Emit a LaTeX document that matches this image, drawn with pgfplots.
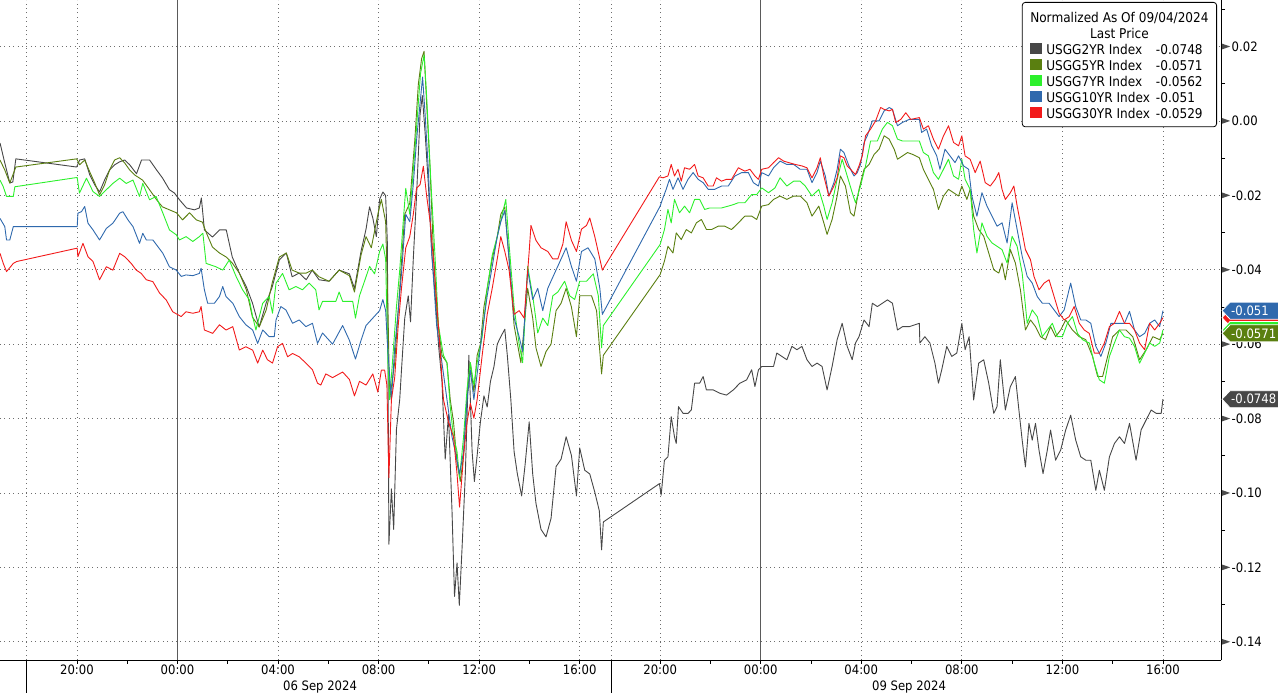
\documentclass[border=0pt]{standalone}
\usepackage{fontspec}
\setmainfont{DejaVu Sans}[FakeStretch=0.9]
\usepackage{pgfplots}
\pgfplotsset{compat=1.18}

\definecolor{c2}{HTML}{474747}
\definecolor{c5}{HTML}{5A7F10}
\definecolor{c7}{HTML}{2CF02C}
\definecolor{c10}{HTML}{2F69AD}
\definecolor{c30}{HTML}{F21A1A}
\definecolor{gridgray}{HTML}{6E6E6E}
\definecolor{midgray}{HTML}{5A5A5A}
\definecolor{tickgray}{HTML}{4D4D4D}

\newcommand\lf{\fontsize{13}{16}\selectfont}
\newcommand\tri{\tikz[baseline=-4.7bp]\fill[tickgray] (0bp,-2.8bp) -- (8bp,0bp) -- (0bp,2.8bp) -- cycle;\hspace{1.5bp}}
\newcommand\sq[1]{\textcolor{#1}{\rule{12bp}{11bp}}}
% last-value tag on the right axis (shape only, then with its text)
\newcommand\ytagbox[2]{%
  \filldraw[fill=#1, draw=white, line width=0.8bp] ([xshift=1bp]axis cs:41.51,#2) -- ++(8bp,8.5bp) -- ++(52bp,0bp) -- ++(0bp,-17bp) -- ++(-52bp,0bp) -- cycle;}
\newcommand\ytag[3]{%
  \ytagbox{#1}{#2}
  \node[anchor=west, text=white, font=\lf, inner sep=0pt] at ([xshift=10bp]axis cs:41.51,#2) {#3};}

\begin{document}
\begin{tikzpicture}
\path[use as bounding box] (0,0) rectangle (1278bp,693bp);
\begin{axis}[
  at={(0,33bp)}, anchor=south west,
  scale only axis, width=1221bp, height=660bp,
  xmin=-7.06, xmax=41.51, ymin=-0.1449, ymax=0.0325,
  axis x line=bottom, axis y line=right,
  axis line style={-, black, line width=0.8bp},
  clip=false,
  xtick={-4,4,8,12,16,19.2,27.2,31.2,35.2,39.2},
  xticklabels={20:00,04:00,08:00,12:00,16:00,20:00,04:00,08:00,12:00,16:00},
  extra x ticks={0,23.2},
  extra x tick labels={00:00,00:00},
  extra x tick style={grid=major, major grid style={solid, draw=midgray, line width=0.8bp}},
  minor xtick={-4,-2,0,2,4,6,8,10,12,14,16,19.2,21.2,23.2,25.2,27.2,29.2,31.2,33.2,35.2,37.2,39.2},
  ytick={-0.14,-0.12,-0.10,-0.08,-0.06,-0.04,-0.02,0,0.02},
  yticklabels={\tri-0.14,\tri-0.12,\tri-0.10,\tri-0.08,\tri-0.06,\tri-0.04,\tri-0.02,\tri0.00,\tri0.02},
  minor ytick={-0.13,-0.11,-0.09,-0.07,-0.05,-0.03,-0.01,0.01,0.03},
  tick align=outside, major tick length=0pt, minor tick length=4bp,
  tick style={black, line width=0.8bp},
  grid=major,
  major grid style={draw=gridgray, line width=0.8bp, dash pattern=on 0.8bp off 3.6bp},
  xticklabel style={font=\lf, anchor=north, inner sep=0pt, yshift=-5bp},
  yticklabel style={font=\lf, anchor=west, inner sep=0pt, xshift=1bp},
  every axis plot/.append style={line width=0.9bp, line join=round, no markers},
]

% session separators
\draw[gridgray, line width=0.8bp, dash pattern=on 0.8bp off 3.6bp] (axis cs:-6,-0.1449) -- (axis cs:-6,0.0325);
\draw[gridgray, line width=0.8bp, dash pattern=on 0.8bp off 3.6bp] (axis cs:17.28,-0.1449) -- (axis cs:17.28,0.0325);
\draw[black, line width=0.8bp] (axis cs:-6,-0.1449) -- ([yshift=-33bp]axis cs:-6,-0.1449);
\draw[black, line width=0.8bp] (axis cs:17.28,-0.1449) -- ([yshift=-33bp]axis cs:17.28,-0.1449);

% USGG2YR
\addplot[c2] coordinates {
(-7.06,-0.0059) (-6.87,-0.0113) (-6.67,-0.0167) (-6.55,-0.0164) (-6.43,-0.0102) (-4.01,-0.0124) (-3.89,-0.0105) (-3.69,-0.0102) (-3.49,-0.0145) (-3.29,-0.0172) (-3.10,-0.0191) (-2.90,-0.0159) (-2.70,-0.0132) (-2.50,-0.0118) (-2.30,-0.0110) (-2.10,-0.0105) (-1.90,-0.0118) (-1.63,-0.0142) (-1.43,-0.0105) (-1.11,-0.0105) (-0.83,-0.0132) (-0.60,-0.0153) (-0.32,-0.0185) (-0.12,-0.0194) (0.08,-0.0212) (0.36,-0.0234) (0.67,-0.0239) (0.87,-0.0234) (0.95,-0.0207) (1.07,-0.0293) (1.39,-0.0312) (1.67,-0.0293) (1.94,-0.0293) (2.18,-0.0366) (2.46,-0.0409) (2.74,-0.0446) (2.98,-0.0489) (3.25,-0.0554) (3.53,-0.0489) (3.77,-0.0446) (4.05,-0.0374) (4.33,-0.0355) (4.56,-0.0419) (4.84,-0.0409) (5.12,-0.0427) (5.36,-0.0401) (5.63,-0.0427)
(6.03,-0.0431) (6.43,-0.0401) (6.84,-0.0411) (7.04,-0.0450) (7.30,-0.0351) (7.50,-0.0291) (7.64,-0.0231) (7.77,-0.0261) (7.91,-0.0311) (8.04,-0.0211) (8.17,-0.0191) (8.28,-0.0201) (8.35,-0.0331) (8.41,-0.1138) (8.51,-0.0989) (8.60,-0.1098) (8.71,-0.0829) (8.84,-0.0749) (8.91,-0.0670) (9.04,-0.0530) (9.18,-0.0470) (9.27,-0.0540) (9.38,-0.0371) (9.51,-0.0201) (9.65,0.0018) (9.74,0.0068) (9.85,-0.0032) (9.98,-0.0171) (10.11,-0.0351) (10.25,-0.0470) (10.38,-0.0600) (10.52,-0.0700) (10.65,-0.0909) (10.78,-0.0789) (10.92,-0.1048) (11.02,-0.1278) (11.12,-0.1188) (11.21,-0.1302) (11.32,-0.1148) (11.45,-0.0949) (11.59,-0.0630) (11.72,-0.0889) (11.81,-0.0969) (11.92,-0.0899) (12.05,-0.0809) (12.19,-0.0739) (12.32,-0.0769) (12.45,-0.0700) (12.59,-0.0660) (12.72,-0.0600) (12.86,-0.0580) (13.02,-0.0560) (13.12,-0.0630) (13.26,-0.0749) (13.39,-0.0889) (13.52,-0.0949) (13.69,-0.1008) (13.82,-0.0929) (13.99,-0.0809) (14.13,-0.0949) (14.26,-0.1028) (14.46,-0.1098) (14.66,-0.1118) (14.86,-0.1068) (15.06,-0.0929) (15.26,-0.0909) (15.46,-0.0849) (15.67,-0.0899) (15.87,-0.1008) (16.00,-0.0879) (16.20,-0.0939) (16.40,-0.0949) (16.60,-0.0998) (16.78,-0.1048) (16.87,-0.1153) (16.94,-0.1078)
(19.17,-0.0975) (19.24,-0.1006) (19.37,-0.0912) (19.51,-0.0903) (19.64,-0.0795) (19.77,-0.0849) (19.84,-0.0867) (19.93,-0.0768) (20.11,-0.0786) (20.31,-0.0786) (20.44,-0.0777) (20.57,-0.0705) (20.77,-0.0705) (20.91,-0.0687) (21.04,-0.0723) (21.31,-0.0723) (21.57,-0.0732) (21.84,-0.0737) (22.11,-0.0723) (22.37,-0.0705) (22.64,-0.0696) (22.84,-0.0669) (22.97,-0.0714) (23.11,-0.0669) (23.24,-0.0660) (23.51,-0.0660) (23.71,-0.0660) (23.84,-0.0624) (24.04,-0.0633) (24.24,-0.0642) (24.44,-0.0606) (24.64,-0.0615) (24.84,-0.0606) (25.04,-0.0642) (25.24,-0.0660) (25.44,-0.0651) (25.64,-0.0660) (25.84,-0.0723) (26.04,-0.0660) (26.24,-0.0588) (26.44,-0.0544) (26.64,-0.0606) (26.84,-0.0642) (26.97,-0.0597) (27.11,-0.0580) (27.31,-0.0535) (27.51,-0.0553) (27.64,-0.0490) (27.84,-0.0499) (28.04,-0.0490) (28.24,-0.0481) (28.44,-0.0490) (28.64,-0.0562) (28.84,-0.0553) (29.11,-0.0553) (29.51,-0.0544)
(29.53,-0.0597) (29.73,-0.0580) (29.93,-0.0597) (30.13,-0.0651) (30.27,-0.0705) (30.40,-0.0669) (30.60,-0.0606) (30.80,-0.0633) (31.00,-0.0624) (31.20,-0.0544) (31.33,-0.0615) (31.49,-0.0580) (31.67,-0.0750) (31.87,-0.0651) (32.07,-0.0642) (32.27,-0.0705) (32.47,-0.0786) (32.60,-0.0768) (32.73,-0.0642) (32.93,-0.0777) (33.13,-0.0714) (33.33,-0.0687) (33.47,-0.0777) (33.60,-0.0858) (33.73,-0.0930) (33.87,-0.0813) (34.00,-0.0858) (34.13,-0.0813) (34.27,-0.0885) (34.43,-0.0948) (34.60,-0.0885) (34.73,-0.0831) (34.93,-0.0912) (35.13,-0.0885) (35.33,-0.0831) (35.53,-0.0791) (35.73,-0.0858) (35.93,-0.0903) (36.13,-0.0912) (36.33,-0.0912) (36.53,-0.0993) (36.67,-0.0939) (36.87,-0.0993) (37.07,-0.0903) (37.27,-0.0867) (37.47,-0.0849) (37.67,-0.0867) (37.87,-0.0813) (38.13,-0.0912) (38.33,-0.0831) (38.53,-0.0804) (38.73,-0.0777) (38.93,-0.0786) (39.13,-0.0786) (39.20,-0.0748)
};

% USGG5YR
\addplot[c5] coordinates {
(-7.06,-0.0105) (-6.87,-0.0132) (-6.67,-0.0167) (-6.43,-0.0124) (-4.01,-0.0102) (-3.89,-0.0118) (-3.69,-0.0105) (-3.49,-0.0137) (-3.29,-0.0167) (-3.10,-0.0199) (-2.90,-0.0172) (-2.70,-0.0132) (-2.50,-0.0105) (-2.30,-0.0099) (-2.10,-0.0113) (-1.90,-0.0132) (-1.71,-0.0145) (-1.39,-0.0159) (-1.11,-0.0185) (-0.83,-0.0212) (-0.60,-0.0231) (-0.32,-0.0239) (-0.04,-0.0247) (0.20,-0.0266) (0.48,-0.0247) (0.75,-0.0266) (0.99,-0.0272) (1.15,-0.0301) (1.39,-0.0339) (1.67,-0.0355) (1.94,-0.0366) (2.18,-0.0382) (2.46,-0.0409) (2.74,-0.0454) (2.98,-0.0527) (3.25,-0.0554) (3.53,-0.0508) (3.77,-0.0435) (4.05,-0.0366) (4.33,-0.0355) (4.56,-0.0401) (4.84,-0.0409) (5.12,-0.0409) (5.36,-0.0401) (5.63,-0.0419)
(6.03,-0.0431) (6.43,-0.0401) (6.84,-0.0416) (7.04,-0.0460) (7.30,-0.0361) (7.50,-0.0311) (7.71,-0.0341) (7.97,-0.0251) (8.11,-0.0211) (8.28,-0.0271) (8.37,-0.0500) (8.44,-0.0749) (8.64,-0.0650) (8.84,-0.0450) (9.04,-0.0251) (9.24,-0.0221) (9.44,-0.0052) (9.58,0.0098) (9.71,0.0167) (9.81,0.0187) (9.91,0.0048) (10.05,-0.0132) (10.18,-0.0351) (10.34,-0.0530) (10.52,-0.0630) (10.72,-0.0650) (10.85,-0.0749) (10.98,-0.0809) (11.12,-0.0919) (11.25,-0.0969) (11.38,-0.0899) (11.52,-0.0739) (11.65,-0.0650) (11.79,-0.0729) (11.92,-0.0630) (12.05,-0.0600) (12.19,-0.0500) (12.32,-0.0450) (12.52,-0.0371) (12.72,-0.0311) (12.86,-0.0251) (13.02,-0.0231) (13.19,-0.0371) (13.39,-0.0550) (13.66,-0.0650) (13.93,-0.0450) (14.13,-0.0530) (14.26,-0.0610) (14.46,-0.0660) (14.66,-0.0620) (14.86,-0.0600) (15.06,-0.0510) (15.26,-0.0490) (15.46,-0.0450) (15.67,-0.0500) (15.87,-0.0580) (16.00,-0.0470) (16.20,-0.0470) (16.47,-0.0470) (16.67,-0.0510) (16.87,-0.0680) (16.94,-0.0630)
(19.20,-0.0413) (19.37,-0.0377) (19.51,-0.0337) (19.71,-0.0355) (19.84,-0.0301) (20.04,-0.0319) (20.24,-0.0292) (20.44,-0.0301) (20.64,-0.0274) (20.84,-0.0265) (21.04,-0.0292) (21.24,-0.0292) (21.51,-0.0283) (21.77,-0.0283) (22.04,-0.0292) (22.31,-0.0274) (22.57,-0.0256) (22.84,-0.0256) (23.04,-0.0265) (23.24,-0.0229) (23.51,-0.0225) (23.71,-0.0211) (23.97,-0.0202) (24.24,-0.0211) (24.51,-0.0202) (24.77,-0.0202) (25.04,-0.0220) (25.24,-0.0256) (25.51,-0.0229) (25.71,-0.0274) (25.84,-0.0305) (26.04,-0.0265) (26.24,-0.0202) (26.37,-0.0148) (26.57,-0.0175) (26.77,-0.0247) (26.91,-0.0256) (27.11,-0.0184) (27.31,-0.0130) (27.51,-0.0117) (27.71,-0.0090) (27.91,-0.0076) (28.11,-0.0040) (28.31,-0.0049) (28.51,-0.0076) (28.64,-0.0103) (28.84,-0.0094) (29.04,-0.0085) (29.24,-0.0090) (29.51,-0.0099)
(29.67,-0.0130) (29.87,-0.0157) (30.07,-0.0184) (30.27,-0.0238) (30.47,-0.0202) (30.67,-0.0184) (30.87,-0.0193) (31.07,-0.0202) (31.20,-0.0175) (31.40,-0.0211) (31.53,-0.0184) (31.67,-0.0256) (31.87,-0.0292) (32.07,-0.0310) (32.27,-0.0355) (32.47,-0.0400) (32.67,-0.0409) (32.80,-0.0382) (32.93,-0.0427) (33.13,-0.0346) (33.33,-0.0382) (33.53,-0.0454) (33.73,-0.0562) (33.93,-0.0535) (34.13,-0.0553) (34.33,-0.0580) (34.53,-0.0588) (34.73,-0.0553) (34.93,-0.0580) (35.13,-0.0562) (35.33,-0.0535) (35.60,-0.0562) (35.87,-0.0580) (36.13,-0.0588) (36.40,-0.0633) (36.60,-0.0687) (36.80,-0.0687) (37.00,-0.0633) (37.20,-0.0580) (37.47,-0.0562) (37.73,-0.0562) (38.00,-0.0580) (38.27,-0.0642) (38.53,-0.0615) (38.80,-0.0580) (39.07,-0.0588) (39.20,-0.0571)
};

% USGG7YR
\addplot[c7] coordinates {
(-7.06,-0.0159) (-6.93,-0.0177) (-6.80,-0.0203) (-6.53,-0.0203) (-6.47,-0.0177) (-3.99,-0.0152) (-3.90,-0.0194) (-3.62,-0.0154) (-3.36,-0.0190) (-3.10,-0.0203) (-2.83,-0.0185) (-2.57,-0.0168) (-2.30,-0.0154) (-2.04,-0.0168) (-1.77,-0.0159) (-1.51,-0.0203) (-1.38,-0.0168) (-1.11,-0.0212) (-0.85,-0.0203) (-0.58,-0.0248) (-0.32,-0.0293) (-0.05,-0.0306) (0.08,-0.0320) (0.34,-0.0311) (0.61,-0.0324) (0.87,-0.0311) (1.01,-0.0302) (1.14,-0.0383) (1.53,-0.0392) (1.80,-0.0401) (2.06,-0.0374) (2.33,-0.0418) (2.59,-0.0454) (2.86,-0.0481) (2.99,-0.0526) (3.12,-0.0562) (3.39,-0.0490) (3.65,-0.0472) (3.78,-0.0517) (3.92,-0.0436) (4.18,-0.0410) (4.44,-0.0454) (4.71,-0.0445) (4.97,-0.0454) (5.24,-0.0436) (5.50,-0.0454) (5.63,-0.0508)
(5.77,-0.0485) (6.30,-0.0485) (6.43,-0.0460) (6.57,-0.0485) (6.97,-0.0485) (7.08,-0.0530) (7.24,-0.0470) (7.44,-0.0431) (7.64,-0.0391) (7.84,-0.0411) (8.04,-0.0351) (8.17,-0.0331) (8.28,-0.0371) (8.37,-0.0650) (8.44,-0.0749) (8.55,-0.0650) (8.71,-0.0500) (8.84,-0.0401) (8.98,-0.0271) (9.08,-0.0181) (9.24,-0.0251) (9.44,-0.0082) (9.58,0.0048) (9.67,0.0128) (9.81,0.0177) (9.91,0.0068) (10.07,-0.0151) (10.25,-0.0371) (10.38,-0.0550) (10.58,-0.0630) (10.72,-0.0650) (10.85,-0.0769) (10.98,-0.0849) (11.12,-0.0889) (11.22,-0.0959) (11.38,-0.0849) (11.52,-0.0719) (11.65,-0.0650) (11.79,-0.0710) (11.92,-0.0650) (12.12,-0.0580) (12.32,-0.0450) (12.52,-0.0361) (12.72,-0.0311) (12.92,-0.0251) (13.06,-0.0211) (13.19,-0.0331) (13.39,-0.0500) (13.59,-0.0600) (13.73,-0.0650) (13.93,-0.0391) (14.13,-0.0470) (14.33,-0.0570) (14.53,-0.0530) (14.73,-0.0550) (14.93,-0.0470) (15.13,-0.0460) (15.40,-0.0431) (15.60,-0.0470) (15.80,-0.0480) (16.00,-0.0431) (16.27,-0.0431) (16.54,-0.0411) (16.74,-0.0470) (16.87,-0.0610) (16.94,-0.0550)
(19.20,-0.0332) (19.37,-0.0292) (19.51,-0.0238) (19.64,-0.0274) (19.77,-0.0211) (19.97,-0.0247) (20.17,-0.0229) (20.37,-0.0247) (20.57,-0.0211) (20.77,-0.0211) (20.97,-0.0238) (21.17,-0.0234) (21.37,-0.0234) (21.64,-0.0234) (21.91,-0.0229) (22.11,-0.0225) (22.31,-0.0220) (22.57,-0.0220) (22.84,-0.0198) (23.04,-0.0198) (23.24,-0.0180) (23.51,-0.0193) (23.77,-0.0180) (23.97,-0.0153) (24.24,-0.0175) (24.51,-0.0162) (24.77,-0.0162) (24.97,-0.0175) (25.24,-0.0202) (25.51,-0.0184) (25.71,-0.0229) (25.84,-0.0265) (26.04,-0.0220) (26.24,-0.0157) (26.44,-0.0103) (26.64,-0.0148) (26.84,-0.0193) (26.97,-0.0220) (27.17,-0.0175) (27.37,-0.0121) (27.57,-0.0054) (27.84,-0.0054) (28.04,-0.0022) (28.24,-0.0004) (28.44,-0.0013) (28.64,-0.0049) (28.84,-0.0054) (29.11,-0.0054) (29.51,-0.0054)
(29.67,-0.0085) (29.87,-0.0094) (30.07,-0.0139) (30.27,-0.0157) (30.47,-0.0130) (30.67,-0.0103) (30.87,-0.0148) (31.07,-0.0157) (31.20,-0.0103) (31.33,-0.0157) (31.53,-0.0184) (31.67,-0.0292) (31.80,-0.0355) (32.00,-0.0274) (32.20,-0.0310) (32.40,-0.0328) (32.60,-0.0337) (32.80,-0.0346) (33.00,-0.0382) (33.20,-0.0310) (33.40,-0.0337) (33.60,-0.0409) (33.80,-0.0544) (34.00,-0.0508) (34.20,-0.0526) (34.40,-0.0580) (34.60,-0.0562) (34.80,-0.0544) (35.00,-0.0580) (35.20,-0.0580) (35.40,-0.0544) (35.60,-0.0526) (35.80,-0.0571) (36.00,-0.0588) (36.27,-0.0597) (36.47,-0.0651) (36.67,-0.0696) (36.87,-0.0705) (37.07,-0.0633) (37.27,-0.0597) (37.47,-0.0562) (37.67,-0.0580) (37.87,-0.0584) (38.07,-0.0606) (38.27,-0.0651) (38.47,-0.0624) (38.67,-0.0597) (38.87,-0.0606) (39.07,-0.0597) (39.20,-0.0562)
};

% USGG10YR
\addplot[c10] coordinates {
(-7.06,-0.0262) (-6.87,-0.0284) (-6.80,-0.0320) (-6.67,-0.0320) (-6.53,-0.0284) (-3.99,-0.0284) (-3.96,-0.0248) (-3.82,-0.0244) (-3.69,-0.0230) (-3.56,-0.0275) (-3.36,-0.0293) (-3.10,-0.0320) (-2.83,-0.0289) (-2.57,-0.0275) (-2.30,-0.0248) (-2.17,-0.0244) (-1.97,-0.0266) (-1.77,-0.0284) (-1.51,-0.0329) (-1.38,-0.0302) (-1.24,-0.0320) (-0.98,-0.0320) (-0.78,-0.0338) (-0.58,-0.0356) (-0.32,-0.0392) (-0.05,-0.0401) (0.15,-0.0418) (0.34,-0.0414) (0.61,-0.0416) (0.87,-0.0410) (0.94,-0.0396) (1.07,-0.0454) (1.20,-0.0490) (1.47,-0.0490) (1.67,-0.0472) (1.80,-0.0445) (1.93,-0.0472) (2.20,-0.0490) (2.46,-0.0526) (2.72,-0.0548) (2.99,-0.0562) (3.19,-0.0598) (3.39,-0.0562) (3.65,-0.0580) (3.85,-0.0580) (3.92,-0.0535) (4.11,-0.0499) (4.31,-0.0508) (4.58,-0.0544) (4.84,-0.0535) (5.11,-0.0553) (5.37,-0.0544) (5.57,-0.0598)
(5.77,-0.0570) (6.17,-0.0600) (6.57,-0.0550) (6.84,-0.0590) (7.08,-0.0640) (7.30,-0.0590) (7.50,-0.0550) (7.77,-0.0530) (8.04,-0.0510) (8.17,-0.0480) (8.28,-0.0510) (8.37,-0.0620) (8.51,-0.0749) (8.64,-0.0610) (8.78,-0.0510) (8.91,-0.0411) (9.08,-0.0251) (9.24,-0.0271) (9.38,-0.0171) (9.51,-0.0052) (9.65,0.0048) (9.75,0.0118) (9.85,0.0018) (9.98,-0.0132) (10.11,-0.0351) (10.31,-0.0550) (10.52,-0.0650) (10.72,-0.0749) (10.92,-0.0849) (11.05,-0.0889) (11.22,-0.0949) (11.38,-0.0889) (11.52,-0.0749) (11.65,-0.0670) (11.79,-0.0749) (11.92,-0.0680) (12.12,-0.0570) (12.32,-0.0470) (12.52,-0.0391) (12.72,-0.0311) (12.86,-0.0271) (13.02,-0.0241) (13.19,-0.0371) (13.39,-0.0530) (13.59,-0.0580) (13.73,-0.0620) (13.93,-0.0401) (14.13,-0.0480) (14.33,-0.0450) (14.53,-0.0510) (14.73,-0.0450) (14.99,-0.0411) (15.26,-0.0371) (15.46,-0.0341) (15.67,-0.0391) (15.87,-0.0431) (16.07,-0.0351) (16.33,-0.0341) (16.60,-0.0371) (16.80,-0.0450) (16.90,-0.0520)
(19.20,-0.0229) (19.31,-0.0207) (19.44,-0.0184) (19.57,-0.0157) (19.71,-0.0184) (19.91,-0.0153) (20.11,-0.0184) (20.31,-0.0157) (20.51,-0.0139) (20.71,-0.0157) (20.91,-0.0166) (21.11,-0.0184) (21.37,-0.0184) (21.64,-0.0175) (21.91,-0.0175) (22.17,-0.0148) (22.44,-0.0139) (22.71,-0.0139) (22.91,-0.0166) (23.11,-0.0175) (23.24,-0.0139) (23.51,-0.0148) (23.71,-0.0126) (23.97,-0.0108) (24.24,-0.0117) (24.51,-0.0117) (24.77,-0.0130) (25.04,-0.0130) (25.24,-0.0166) (25.44,-0.0139) (25.57,-0.0108) (25.77,-0.0148) (25.91,-0.0202) (26.11,-0.0166) (26.24,-0.0130) (26.37,-0.0076) (26.51,-0.0085) (26.71,-0.0121) (26.91,-0.0148) (27.04,-0.0139) (27.17,-0.0117) (27.31,-0.0058) (27.44,-0.0040) (27.64,0.0000) (27.91,0.0000) (28.11,0.0027) (28.31,0.0036) (28.44,0.0031) (28.64,-0.0013) (28.84,-0.0004) (29.11,0.0004) (29.51,0.0004)
(29.60,-0.0031) (29.80,-0.0022) (30.00,-0.0067) (30.20,-0.0094) (30.33,-0.0130) (30.53,-0.0076) (30.73,-0.0094) (30.93,-0.0112) (31.07,-0.0094) (31.27,-0.0121) (31.47,-0.0130) (31.60,-0.0202) (31.80,-0.0256) (32.00,-0.0193) (32.20,-0.0229) (32.40,-0.0256) (32.60,-0.0283) (32.80,-0.0274) (33.00,-0.0328) (33.20,-0.0220) (33.40,-0.0292) (33.60,-0.0364) (33.80,-0.0418) (34.00,-0.0436) (34.20,-0.0472) (34.40,-0.0490) (34.67,-0.0490) (34.87,-0.0508) (35.07,-0.0526) (35.27,-0.0508) (35.53,-0.0436) (35.73,-0.0499) (35.93,-0.0535) (36.13,-0.0535) (36.33,-0.0544) (36.53,-0.0606) (36.73,-0.0633) (36.93,-0.0597) (37.13,-0.0544) (37.40,-0.0544) (37.67,-0.0544) (37.87,-0.0512) (38.07,-0.0562) (38.27,-0.0580) (38.47,-0.0571) (38.67,-0.0544) (38.87,-0.0535) (39.07,-0.0553) (39.20,-0.0510)
};

% USGG30YR
\addplot[c30] coordinates {
(-7.06,-0.0356) (-6.93,-0.0383) (-6.80,-0.0405) (-6.53,-0.0383) (-6.40,-0.0378) (-3.99,-0.0342) (-3.96,-0.0365) (-3.76,-0.0329) (-3.56,-0.0365) (-3.36,-0.0378) (-3.10,-0.0427) (-2.83,-0.0392) (-2.57,-0.0401) (-2.30,-0.0356) (-2.10,-0.0365) (-1.84,-0.0383) (-1.64,-0.0401) (-1.44,-0.0410) (-1.24,-0.0427) (-0.98,-0.0432) (-0.71,-0.0463) (-0.45,-0.0481) (-0.19,-0.0513) (0.15,-0.0526) (0.34,-0.0513) (0.61,-0.0517) (0.87,-0.0513) (0.94,-0.0499) (1.07,-0.0562) (1.40,-0.0571) (1.67,-0.0548) (1.93,-0.0562) (2.20,-0.0553) (2.46,-0.0616) (2.72,-0.0607) (2.99,-0.0616) (3.19,-0.0651) (3.39,-0.0616) (3.58,-0.0642) (3.78,-0.0651) (3.98,-0.0607) (4.18,-0.0598) (4.38,-0.0634) (4.58,-0.0625) (4.84,-0.0634) (5.11,-0.0651) (5.37,-0.0669) (5.57,-0.0705)
(5.70,-0.0710) (5.90,-0.0680) (6.17,-0.0690) (6.57,-0.0675) (6.84,-0.0695) (7.04,-0.0739) (7.24,-0.0700) (7.50,-0.0710) (7.77,-0.0680) (7.97,-0.0729) (8.11,-0.0670) (8.24,-0.0670) (8.33,-0.0710) (8.41,-0.0959) (8.51,-0.0749) (8.64,-0.0690) (8.78,-0.0550) (8.91,-0.0450) (9.08,-0.0341) (9.24,-0.0311) (9.38,-0.0251) (9.51,-0.0181) (9.65,-0.0171) (9.78,-0.0122) (9.91,-0.0201) (10.05,-0.0271) (10.18,-0.0371) (10.38,-0.0550) (10.58,-0.0749) (10.78,-0.0809) (10.98,-0.0849) (11.12,-0.0949) (11.22,-0.1038) (11.38,-0.0899) (11.52,-0.0809) (11.65,-0.0759) (11.79,-0.0799) (11.92,-0.0749) (12.12,-0.0630) (12.32,-0.0520) (12.52,-0.0450) (12.72,-0.0371) (12.86,-0.0311) (13.02,-0.0351) (13.19,-0.0401) (13.39,-0.0520) (13.59,-0.0510) (13.79,-0.0530) (13.99,-0.0351) (14.06,-0.0281) (14.26,-0.0321) (14.46,-0.0341) (14.73,-0.0351) (14.93,-0.0371) (15.13,-0.0371) (15.33,-0.0331) (15.46,-0.0271) (15.67,-0.0321) (15.87,-0.0351) (16.07,-0.0291) (16.27,-0.0281) (16.40,-0.0261) (16.60,-0.0311) (16.80,-0.0371) (16.90,-0.0401)
(19.17,-0.0150) (19.31,-0.0153) (19.51,-0.0148) (19.64,-0.0117) (19.77,-0.0148) (19.91,-0.0130) (20.04,-0.0162) (20.17,-0.0126) (20.37,-0.0130) (20.57,-0.0117) (20.71,-0.0148) (20.91,-0.0153) (21.11,-0.0175) (21.31,-0.0175) (21.44,-0.0153) (21.64,-0.0162) (21.84,-0.0157) (22.04,-0.0157) (22.31,-0.0126) (22.57,-0.0135) (22.77,-0.0130) (22.97,-0.0148) (23.11,-0.0157) (23.24,-0.0130) (23.51,-0.0126) (23.71,-0.0112) (23.91,-0.0099) (24.11,-0.0108) (24.31,-0.0112) (24.57,-0.0117) (24.84,-0.0121) (25.04,-0.0126) (25.24,-0.0153) (25.44,-0.0126) (25.57,-0.0099) (25.71,-0.0148) (25.91,-0.0202) (26.11,-0.0175) (26.24,-0.0153) (26.37,-0.0094) (26.51,-0.0099) (26.64,-0.0121) (26.84,-0.0135) (26.97,-0.0144) (27.11,-0.0121) (27.24,-0.0094) (27.37,-0.0040) (27.57,-0.0022) (27.77,0.0000) (27.97,0.0036) (28.11,0.0031) (28.31,0.0027) (28.44,0.0031) (28.57,-0.0004) (28.77,0.0004) (28.97,0.0022) (29.17,0.0004) (29.51,0.0009)
(29.67,-0.0022) (29.87,-0.0013) (30.07,-0.0049) (30.27,-0.0076) (30.47,-0.0040) (30.67,-0.0013) (30.87,-0.0058) (31.07,-0.0067) (31.20,-0.0040) (31.33,-0.0094) (31.53,-0.0103) (31.73,-0.0139) (31.93,-0.0108) (32.13,-0.0166) (32.33,-0.0175) (32.53,-0.0157) (32.67,-0.0139) (32.80,-0.0184) (32.93,-0.0211) (33.13,-0.0193) (33.27,-0.0175) (33.40,-0.0229) (33.53,-0.0274) (33.73,-0.0346) (33.93,-0.0373) (34.07,-0.0418) (34.27,-0.0454) (34.47,-0.0436) (34.67,-0.0427) (34.87,-0.0472) (35.07,-0.0517) (35.27,-0.0535) (35.47,-0.0526) (35.67,-0.0499) (35.87,-0.0544) (36.07,-0.0562) (36.27,-0.0571) (36.47,-0.0624) (36.67,-0.0624) (36.87,-0.0597) (37.07,-0.0553) (37.27,-0.0544) (37.47,-0.0512) (37.67,-0.0544) (37.87,-0.0544) (38.07,-0.0562) (38.27,-0.0597) (38.47,-0.0615) (38.67,-0.0544) (38.87,-0.0562) (39.07,-0.0544) (39.20,-0.0529)
};

% date labels
\node[anchor=base, font=\lf, inner sep=0pt] at ([yshift=-30bp]axis cs:5.67,-0.1449) {06 Sep 2024};
\node[anchor=base, font=\lf, inner sep=0pt] at ([yshift=-30bp]axis cs:29.1,-0.1449) {09 Sep 2024};

% last-value tags (30YR and 7YR lie under the 10YR and 5YR tags)
\ytagbox{c30}{-0.0529}
\ytagbox{c7}{-0.0562}
\ytag{c10}{-0.051}{-0.051}
\ytag{c5}{-0.0571}{-0.0571}
\ytag{c2}{-0.0748}{-0.0748}

% legend
\node[draw=black, line width=0.8bp, rounded corners=3bp, fill=white, anchor=north east,
      inner xsep=8bp, inner ysep=4bp, font=\fontsize{13.5}{16}\selectfont] at (rel axis cs:0.9967,0.997) {%
\begin{tabular}{@{}l@{\hspace{4bp}}l@{\hspace{6bp}}l@{}}
\multicolumn{3}{@{}c@{}}{\rule{0pt}{16bp}Normalized As Of 09/04/2024}\\
\multicolumn{3}{@{}c@{}}{Last Price}\\
\sq{c2} & USGG2YR Index & -0.0748\\
\sq{c5} & USGG5YR Index & -0.0571\\
\sq{c7} & USGG7YR Index & -0.0562\\
\sq{c10} & USGG10YR Index & -0.051\\
\sq{c30} & USGG30YR Index & -0.0529
\end{tabular}};
\end{axis}
\end{tikzpicture}
\end{document}
